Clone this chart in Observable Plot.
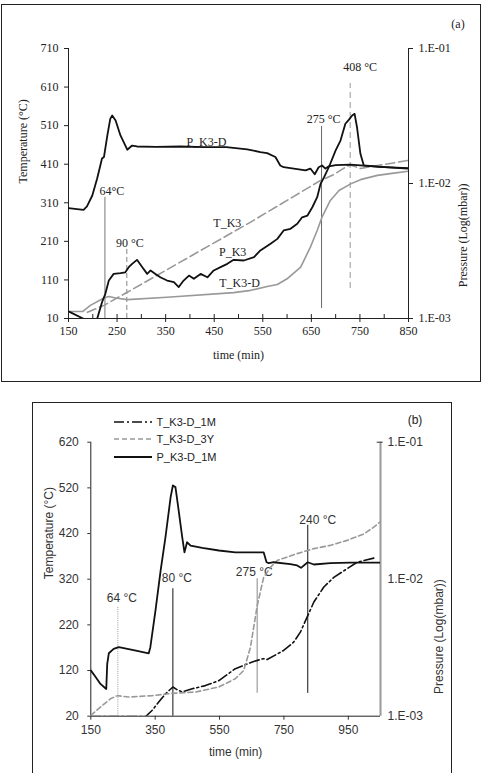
<!DOCTYPE html>
<html><head><meta charset="utf-8">
<script src="https://cdn.jsdelivr.net/npm/d3@7"></script>
<script src="https://cdn.jsdelivr.net/npm/@observablehq/plot@0.6"></script>
<style>
html,body{margin:0;padding:0;background:#fff;}
#page{position:relative;width:483px;height:773px;overflow:hidden;background:#fff;}
.box{position:absolute;border:1.5px solid #222;box-sizing:border-box;}
.abs{position:absolute;}
#page svg{position:absolute;left:0;overflow:visible;}
#pa text{font-family:'Liberation Serif','Times New Roman',Times,serif !important;font-size:12px !important;}
#pb text{font-family:'Liberation Sans',Arial,Helvetica,sans-serif !important;font-size:12px !important;}
#pb text.ann{font-size:11.5px !important;}
</style></head><body><div id="page"></div>
<script>
// ---------------- DATA: panel (a) ----------------
const aTicksTemp = [10,110,210,310,410,510,610,710];
const aTicksTime = [150,250,350,450,550,650,750,850];
const aTicksPress = [0.1,0.01,0.001];
const aTicksPressLabels = ["1.E-01","1.E-02","1.E-03"];

const aP_K3D_time = [150,181,188,199,209,219,223,230,236,240,247,257,271,281,291,330,380,430,475,518,545,559,576,586,593,614,638,648,657,665,672,679,686,700,730,751,790,850];
const aP_K3D_mbar = [0.00656,0.00638,0.00676,0.00815,0.0109,0.0153,0.0157,0.0227,0.0301,0.0319,0.0293,0.0227,0.0178,0.0191,0.0188,0.0187,0.0188,0.0186,0.0186,0.0179,0.0171,0.0168,0.0157,0.0136,0.0132,0.0129,0.0125,0.0129,0.0117,0.0132,0.0136,0.0129,0.0134,0.0137,0.0138,0.0136,0.0133,0.0130];

const aP_K3_time = [150,181,195,209,219,226,233,243,257,267,274,281,291,302,312,319,329,339,353,367,377,387,398,408,422,436,449,463,477,490,511,532,545,566,580,593,607,621,631,642,652,662,669,676,686,700,710,720,727,734,739,744,751,758,792,850];
const aP_K3_mbar = [0.00113,0.000995,0.000903,0.000995,0.00132,0.00153,0.00191,0.00214,0.00217,0.00220,0.00240,0.00254,0.00272,0.00240,0.00214,0.00227,0.00214,0.00202,0.00191,0.00186,0.00171,0.00191,0.00208,0.00197,0.00214,0.00202,0.00227,0.00240,0.00254,0.00272,0.00269,0.00285,0.00319,0.00358,0.00389,0.00449,0.00462,0.00503,0.00562,0.00579,0.00667,0.00792,0.00995,0.0111,0.0132,0.0176,0.0208,0.0277,0.0296,0.0319,0.0328,0.0261,0.0166,0.0136,0.0133,0.0129];

const aT_K3_time = [189,223,271,525,669,696,720,730,751,798,850];
const aT_K3_temp = [26,44,78,260,368,383,402,408,399,409,420];

const aT_K3D_time = [150,179,195,223,233,247,271,353,490,525,559,580,600,628,648,662,672,689,707,731,751,786,820,850];
const aT_K3D_temp = [28,28,44,63,67,63,59,65,77,83,93,98,113,143,195,238,273,316,342,359,370,381,387,392];

const aSeriesNames = ["P_K3-D","T_K3","P_K3","T_K3-D"];
const aAnnTime = [225,270,671,730];
const aAnnTop = [324,191,508,619];
const aAnnBottom = [10,10,36,88];
const aAnnLabel = ["64°C","90 °C","275 °C","408 °C"];

// ---------------- DATA: panel (b) ----------------
const bTicksTemp = [20,120,220,320,420,520,620];
const bTicksTime = [150,350,550,750,950];
const bTicksPress = [0.1,0.01,0.001];
const bTicksPressLabels = ["1.E-01","1.E-02","1.E-03"];

const bP_time = [150,165,180,198,201,206,221,237,279,330,335,351,367,382,398,405,413,423,434,441,449,460,496,548,599,687,696,703,718,770,791,803,824,843,894,957,1050];
const bP_mbar = [0.00216,0.00193,0.00172,0.00158,0.00241,0.00288,0.00310,0.00319,0.00305,0.00288,0.00319,0.00591,0.0116,0.0203,0.0397,0.0483,0.0470,0.0317,0.0203,0.0157,0.0186,0.0176,0.0169,0.0162,0.0157,0.0157,0.0133,0.0131,0.0133,0.0129,0.0126,0.0121,0.0133,0.0128,0.0131,0.0132,0.0132];

const bT1M_time = [150,320,341,361,382,405,418,434,465,506,548,599,656,687,698,749,780,801,822,843,874,905,946,977,1034];
const bT1M_temp = [19,19,33,51,69,84,78,73,80,87,98,124,140,146,144,164,182,204,237,270,303,324,343,357,367];

const bT3Y_time = [150,185,211,232,268,341,403,475,548,599,625,646,667,687,708,729,791,843,894,946,998,1029,1050];
const bT3Y_temp = [22,43,58,65,62,65,70,73,84,102,120,171,262,324,346,361,376,387,394,405,419,434,446];

const bSeriesNames = ["T_K3-D_1M","T_K3-D_3Y","P_K3-D_1M"];
const bAnnTime = [234,405,667,824];
const bAnnTop = [259,299,321,438];
const bAnnBottom = [20,20,70,70];
const bAnnLabel = ["64 °C","80 °C","275 °C","240 °C"];

// ---------------- LAYOUT / STYLE ----------------
const SERIF = "'Liberation Serif','Times New Roman',serif";
const SANS = "'Liberation Sans',Arial,sans-serif";
const page = document.getElementById("page");

function addBox(l,t,w,h){const d=document.createElement("div");d.className="box";Object.assign(d.style,{left:l+"px",top:t+"px",width:w+"px",height:h+"px"});page.appendChild(d);}
function addText(txt,x,y,font,size,anchor="middle"){const d=document.createElement("div");d.className="abs";d.textContent=txt;Object.assign(d.style,{left:x+"px",top:y+"px",fontFamily:font,fontSize:size+"px",color:"#222",whiteSpace:"nowrap",transform:anchor==="middle"?"translate(-50%,-50%)":"translate(0,-50%)",lineHeight:"1"});page.appendChild(d);}

addBox(1,4,480,378);
addBox(32,402,420,380);

const zip = (ts, vs, f = v => v) => ts.map((t, i) => ({t, v: f(vs[i])}));

// ---------------- PANEL (a) ----------------
{
  const tDom=[150,850], yDom=[10,710];
  const pY = p => yDom[0] + (Math.log10(p) + 3) / 2 * (yDom[1]-yDom[0]);
  const pxPerUnit = 270/700;
  const annStyle = [
    {stroke:"#777",strokeWidth:1,strokeDasharray:null,dx:7,dy:-6},
    {stroke:"#999",strokeWidth:1.2,strokeDasharray:"5,3",dx:3,dy:-6},
    {stroke:"#666",strokeWidth:1,strokeDasharray:null,dx:2,dy:-7},
    {stroke:"#aaa",strokeWidth:1.2,strokeDasharray:"6,4",dx:10,dy:-16}
  ];
  const labelAt = [[434,467],[477,256],[488,181],[502,101]];
  const rightLab = new Map(aTicksPress.map((p,i)=>[Math.round(pY(p)), aTicksPressLabels[i]]));
  const ann = aAnnTime.map((t,i)=>({t, top:aAnnTop[i], bottom:aAnnBottom[i], label:aAnnLabel[i]}));
  const svg = Plot.plot({
    width:483, height:385,
    marginLeft:68, marginRight:75, marginTop:48, marginBottom:67,
    style:{background:"transparent", color:"#222"},
    x:{domain:tDom}, y:{domain:yDom},
    marks:[
      Plot.ruleX([tDom[0], tDom[1]], {stroke:"#222", strokeWidth:1}),
      Plot.ruleY([yDom[0]], {stroke:"#222", strokeWidth:1}),
      Plot.axisY(aTicksTemp, {anchor:"left", tickSize:4, tickPadding:6, label:null, tickFormat:d=>d}),
      Plot.axisY(aTicksPress.map(pY), {anchor:"right", tickSize:4, tickPadding:6, label:null, tickFormat:d=>rightLab.get(Math.round(d))}),
      Plot.axisX(aTicksTime, {anchor:"bottom", tickSize:4, tickPadding:4, label:null, tickFormat:d=>d}),
      Plot.ruleX(d3.range(tDom[0], tDom[1]+1, 50), {y1:yDom[0], y2:yDom[0]+4/pxPerUnit, stroke:"#222"}),
      ...ann.map((d,i)=>Plot.ruleX([d], {x:"t", y1:"bottom", y2:"top", stroke:annStyle[i].stroke, strokeWidth:annStyle[i].strokeWidth, strokeDasharray:annStyle[i].strokeDasharray})),
      ...ann.map((d,i)=>Plot.text([d], {x:"t", y:"top", text:"label", dx:annStyle[i].dx, dy:annStyle[i].dy, fill:"#222"})),
      Plot.line(zip(aT_K3D_time, aT_K3D_temp), {x:"t", y:"v", stroke:"#999", strokeWidth:1.6, clip:true}),
      Plot.line(zip(aT_K3_time, aT_K3_temp), {x:"t", y:"v", stroke:"#999", strokeWidth:1.6, strokeDasharray:"9,4", clip:true}),
      Plot.line(zip(aP_K3D_time, aP_K3D_mbar, pY), {x:"t", y:"v", stroke:"#111", strokeWidth:1.8, clip:true}),
      Plot.line(zip(aP_K3_time, aP_K3_mbar, pY), {x:"t", y:"v", stroke:"#111", strokeWidth:1.8, clip:true}),
      Plot.text(aSeriesNames.map((n,i)=>({n, t:labelAt[i][0], v:labelAt[i][1]})), {x:"t", y:"v", text:"n", fill:"#222"}),
      Plot.text(["Temperature (°C)"], {frameAnchor:"left", dx:-45, rotate:-90, fill:"#222"}),
      Plot.text(["Pressure (Log(mbar))"], {frameAnchor:"right", dx:55, rotate:-90, fill:"#222"}),
      Plot.text(["time (min)"], {frameAnchor:"bottom", dy:40, fill:"#222"})
    ]
  });
  svg.id = "pa";
  svg.style.top = "0px";
  page.appendChild(svg);
  addText("(a)", 458, 24, SERIF, 12);
}

// ---------------- PANEL (b) ----------------
{
  const tDom=[150,1050], yDom=[20,620];
  const pY = p => yDom[0] + (Math.log10(p) + 3) / 2 * (yDom[1]-yDom[0]);
  const pxPerMin = 289.7/900;
  const styles = {
    "T_K3-D_1M": {stroke:"#111", strokeWidth:1.6, strokeDasharray:"10,3,2,3"},
    "T_K3-D_3Y": {stroke:"#999", strokeWidth:1.6, strokeDasharray:"5,3"},
    "P_K3-D_1M": {stroke:"#111", strokeWidth:1.8, strokeDasharray:null}
  };
  const annStyle = [
    {stroke:"#999",strokeWidth:1,strokeDasharray:"1,1.2",dx:4,dy:-9},
    {stroke:"#111",strokeWidth:1,strokeDasharray:null,dx:4,dy:-11},
    {stroke:"#aaa",strokeWidth:1.4,strokeDasharray:null,dx:-3,dy:-7},
    {stroke:"#111",strokeWidth:1,strokeDasharray:null,dx:10,dy:-5}
  ];
  const rightLab = new Map(bTicksPress.map((p,i)=>[Math.round(pY(p)), bTicksPressLabels[i]]));
  const ann = bAnnTime.map((t,i)=>({t, top:bAnnTop[i], bottom:bAnnBottom[i], label:bAnnLabel[i]}));
  const sd = [zip(bT1M_time,bT1M_temp), zip(bT3Y_time,bT3Y_temp), zip(bP_time,bP_mbar,pY)];
  const svg = Plot.plot({
    width:483, height:378,
    marginLeft:90.3, marginRight:103, marginTop:46.7, marginBottom:57.3,
    style:{background:"transparent", color:"#333"},
    x:{domain:tDom}, y:{domain:yDom},
    marks:[
      Plot.ruleX([tDom[0]], {stroke:"#222", strokeWidth:1}),
      Plot.ruleX([tDom[1]], {stroke:"#999", strokeWidth:2}),
      Plot.ruleY([yDom[0]], {stroke:"#222", strokeWidth:1}),
      Plot.ruleY([yDom[1]], {x1:tDom[1]-3.3/pxPerMin, x2:tDom[1]+2.7/pxPerMin, stroke:"#333"}),
      Plot.axisY(bTicksTemp, {anchor:"left", tickSize:3, tickPadding:9, label:null, tickFormat:d=>d}),
      Plot.axisY(bTicksPress.map(pY), {anchor:"right", tickSize:0, tickPadding:7, label:null, tickFormat:d=>rightLab.get(Math.round(d))}),
      Plot.axisX(bTicksTime, {anchor:"bottom", tickSize:4, tickPadding:5, label:null, tickFormat:d=>d}),
      ...ann.map((d,i)=>Plot.ruleX([d], {x:"t", y1:"bottom", y2:"top", stroke:annStyle[i].stroke, strokeWidth:annStyle[i].strokeWidth, strokeDasharray:annStyle[i].strokeDasharray})),
      ...ann.map((d,i)=>Plot.text([d], {x:"t", y:"top", text:"label", dx:annStyle[i].dx, dy:annStyle[i].dy, fill:"#333", className:"annb"})),
      ...bSeriesNames.map((n,i)=>Plot.line(sd[i], {x:"t", y:"v", clip:true, ...styles[n]})),
      Plot.text(["Temperature (°C)"], {frameAnchor:"left", dx:-42, rotate:-90, fill:"#333"}),
      Plot.text(["Pressure (Log(mbar))"], {frameAnchor:"right", dx:59, rotate:-90, fill:"#333"}),
      Plot.text(["time (min)"], {frameAnchor:"bottom", dy:40, fill:"#333"})
    ]
  });
  svg.id = "pb";
  svg.style.top = "395px";
  page.appendChild(svg);
  addText("(b)", 415, 420, SANS, 12);

  // legend
  bSeriesNames.forEach((n,i)=>{
    const y = 421.7 + i*17.5;
    const s = styles[n];
    const ns = "http://www.w3.org/2000/svg";
    const sv = document.createElementNS(ns,"svg");
    sv.setAttribute("width","38"); sv.setAttribute("height","8");
    Object.assign(sv.style,{position:"absolute",left:"114px",top:(y-4)+"px"});
    const ln = document.createElementNS(ns,"line");
    ln.setAttribute("x1","0");ln.setAttribute("x2","38");ln.setAttribute("y1","4");ln.setAttribute("y2","4");
    ln.setAttribute("stroke",s.stroke);ln.setAttribute("stroke-width",s.strokeWidth);
    if(s.strokeDasharray) ln.setAttribute("stroke-dasharray",s.strokeDasharray);
    sv.appendChild(ln); page.appendChild(sv);
    addText(n, 156.5, y, SANS, 11, "start");
  });
}
</script></body></html>
